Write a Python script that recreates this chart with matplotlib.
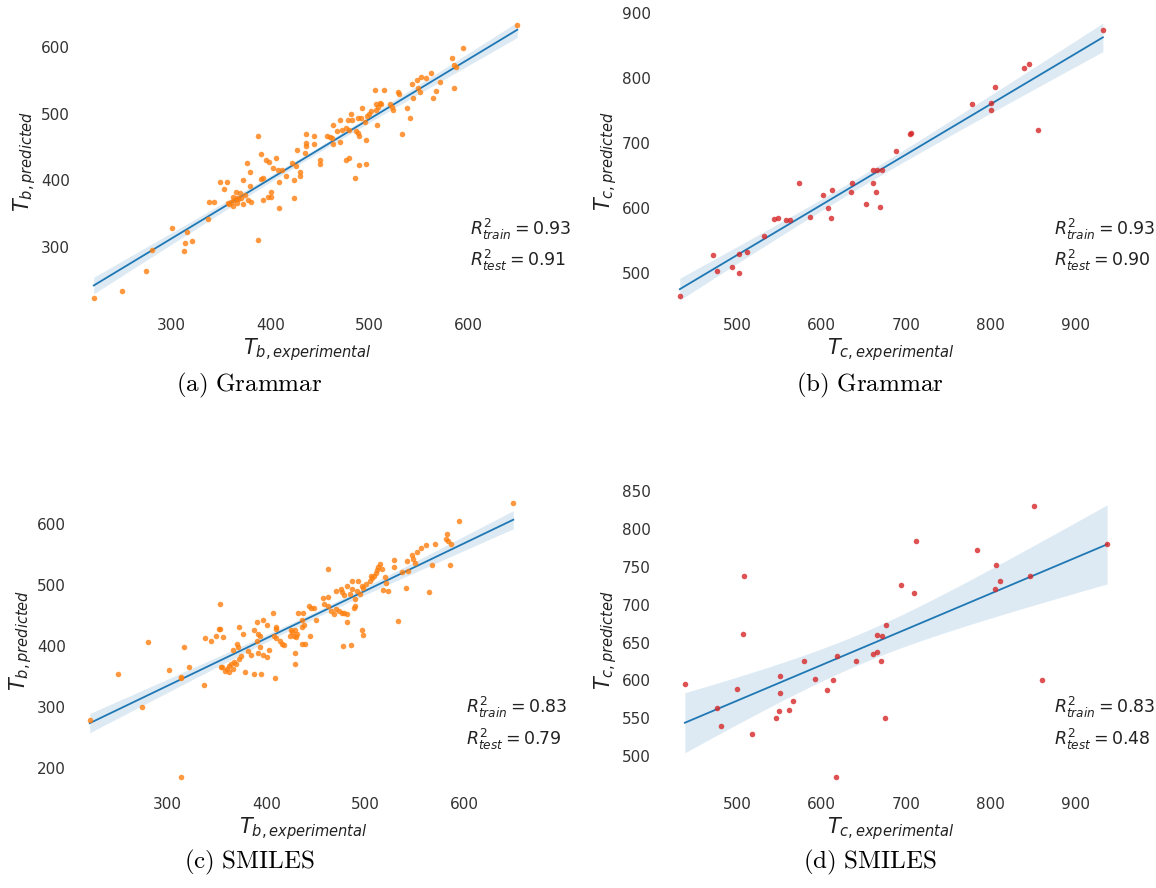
import matplotlib
matplotlib.use('Agg')
import matplotlib.pyplot as plt
import numpy as np

# (a) Grammar, boiling point
tb_gram_exp = [221, 250, 274, 280, 300, 312, 313, 315, 321, 337, 338, 343, 387,
               387, 436, 444, 436, 444, 436, 427, 435, 390, 395, 398, 406, 376, 422, 450, 450,
               426, 403, 408, 412, 379, 430, 430, 416, 392, 390, 372, 424, 409, 349, 356, 379,
               353, 401, 365, 369, 362, 366, 370, 397, 401, 392, 424, 358, 362, 366, 409,
               357, 360, 363, 367, 374, 377, 380, 372,
               650, 595, 584, 586, 588, 586, 563, 558, 552, 548, 543, 572, 568, 549, 551, 565,
               544, 538, 541, 533, 529, 530, 506, 515, 521, 523, 524, 507, 511, 512, 509, 507,
               502, 500, 498, 493, 482, 483, 489, 492, 496, 470, 479, 463, 508, 467, 472, 477,
               480, 487, 489, 457, 460, 462, 490, 497, 463, 470, 476, 480, 490, 497, 486]
tb_gram_pred = [223, 234, 264, 295, 328, 294, 306, 323, 309, 342, 368, 368, 311,
                466, 470, 466, 456, 455, 452, 446, 441, 439, 430, 428, 433, 426, 426, 430, 424,
                421, 418, 415, 415, 413, 413, 406, 406, 404, 402, 401, 401, 398, 398, 398, 391,
                387, 383, 383, 381, 375, 373, 374, 375, 375, 371, 373, 364, 362, 366, 359,
                366, 368, 370, 372, 378, 371, 368, 365,
                633, 598, 583, 573, 570, 539, 561, 553, 555, 550, 545, 548, 534, 538, 533, 523,
                523, 509, 493, 470, 533, 529, 536, 535, 515, 510, 506, 515, 516, 515, 510, 505,
                504, 500, 496, 508, 500, 490, 493, 494, 488, 491, 490, 483, 483, 474, 475, 479,
                476, 474, 471, 466, 465, 463, 466, 460, 455, 458, 430, 433, 423, 424, 404]

# (b) Grammar, critical temperature
tc_gram_exp = [432, 471, 476, 494, 502, 502, 511, 532, 543, 548, 558, 562, 573, 586,
               601, 607, 612, 611, 636, 635, 653, 661, 666, 672, 661, 664, 669, 688, 704,
               706, 778, 800, 800, 805, 840, 845, 856, 933]
tc_gram_pred = [465, 527, 503, 509, 500, 529, 532, 557, 583, 584, 582, 582, 638, 586,
                620, 600, 628, 584, 638, 624, 606, 658, 658, 658, 638, 624, 602, 687, 714,
                716, 760, 762, 750, 786, 816, 822, 720, 874]

# (c) SMILES, boiling point
tb_smi_exp = [221, 250, 274, 280, 301, 313, 313, 316, 313, 322, 337, 353, 353, 354,
              338, 344, 349, 356, 352, 407, 390, 396, 401, 372, 387, 391, 393, 390, 376,
              410, 410, 408, 410, 414, 370, 371, 393, 381, 384, 391, 396, 401, 366, 403,
              416, 418, 424, 426, 428, 430, 431, 429, 425, 374, 372, 367, 364, 362, 360,
              358, 355, 362, 366, 369, 378, 387, 394, 409, 429, 429, 436, 439, 444, 450,
              432, 437, 436, 436, 438, 443, 445, 448, 457, 462, 458, 462, 462,
              650, 595, 583, 582, 584, 587, 571, 562, 557, 552, 547, 548, 542, 529, 529,
              515, 513, 512, 511, 509, 517, 506, 507, 505, 501, 497, 498, 520, 521, 523,
              518, 493, 487, 482, 487, 492, 495, 543, 537, 550, 568, 586, 541, 565, 533,
              470, 475, 477, 479, 485, 490, 490, 489, 470, 473, 476, 479, 482, 465, 468,
              482, 497, 498, 478, 486]
tb_smi_pred = [279, 355, 300, 406, 361, 347, 349, 398, 185, 365, 336, 428, 469, 366,
               414, 408, 416, 415, 428, 454, 440, 443, 434, 431, 426, 420, 416, 409, 420,
               432, 428, 417, 414, 408, 403, 398, 398, 392, 385, 388, 385, 382, 393, 393,
               404, 401, 417, 423, 417, 415, 420, 426, 426, 383, 379, 374, 371, 367, 363,
               360, 366, 358, 363, 371, 358, 355, 355, 347, 389, 371, 403, 403, 416, 443,
               455, 454, 442, 432, 435, 466, 463, 463, 479, 480, 469, 465, 526,
               635, 605, 583, 575, 572, 567, 567, 565, 561, 555, 550, 543, 540, 541, 530,
               535, 530, 525, 519, 515, 526, 515, 512, 507, 501, 499, 495, 513, 504, 491,
               492, 506, 507, 499, 494, 491, 485, 523, 522, 537, 533, 533, 496, 488, 441,
               491, 494, 488, 483, 485, 477, 466, 463, 461, 458, 455, 454, 452, 457, 452,
               439, 426, 419, 400, 401]

# (d) SMILES, critical temperature
tc_smi_exp = [438, 476, 481, 500, 508, 507, 517, 546, 550, 551, 551, 561, 566, 579,
              592, 606, 613, 617, 618, 641, 661, 666, 665, 672, 670, 675, 676, 694, 712,
              709, 784, 806, 811, 805, 847, 851, 861, 938]
tc_smi_pred = [595, 563, 540, 589, 738, 662, 529, 551, 560, 606, 584, 561, 573, 626,
               602, 587, 601, 472, 632, 626, 635, 637, 660, 659, 626, 550, 673, 726, 784,
               716, 773, 752, 732, 721, 738, 831, 601, 780]

panels = [
    ('(a) Grammar', tb_gram_exp, tb_gram_pred, '#ff7f0e', 'b', '0.93', '0.91'),
    ('(b) Grammar', tc_gram_exp, tc_gram_pred, '#d62728', 'c', '0.93', '0.90'),
    ('(c) SMILES', tb_smi_exp, tb_smi_pred, '#ff7f0e', 'b', '0.83', '0.79'),
    ('(d) SMILES', tc_smi_exp, tc_smi_pred, '#d62728', 'c', '0.83', '0.48'),
]

W, H = 1156, 888
fig = plt.figure(figsize=(W / 100, H / 100), dpi=100)

# axes boxes in pixels: left, top, right, bottom
boxes = [(76, 11, 539, 312), (657, 11, 1124, 312),
         (72, 489, 535, 791), (657, 489, 1124, 791)]
limits = [((203, 672), (202.5, 653.8)),
          ((405, 958), (440, 903)),
          ((203, 672), (162.5, 657.5)),
          ((405, 958), (454, 853))]
captions_xy = [(249, 385), (870, 385), (249, 862), (870, 862)]
line_col = '#1f77b4'

for i, (cap, xs, ys, col, sub, r2tr, r2te) in enumerate(panels):
    l, t, r, b = boxes[i]
    ax = fig.add_axes([l / W, 1 - b / H, (r - l) / W, (b - t) / H])
    x = np.array(xs, dtype=float)
    y = np.array(ys, dtype=float)

    # linear fit with 95% band
    slope, icpt = np.polyfit(x, y, 1)
    grid = np.linspace(x.min(), x.max(), 100)
    fit = icpt + slope * grid
    resid = y - (icpt + slope * x)
    s = np.sqrt(np.sum(resid ** 2) / (len(x) - 2))
    se = s * np.sqrt(1 / len(x) + (grid - x.mean()) ** 2 / np.sum((x - x.mean()) ** 2))
    ax.fill_between(grid, fit - 2 * se, fit + 2 * se, color=line_col, alpha=0.15, lw=0)
    ax.plot(grid, fit, color=line_col, lw=1.3)
    ax.scatter(x, y, s=16, color=col, alpha=0.8, lw=0, zorder=3)

    ax.set_xlim(*limits[i][0])
    ax.set_ylim(*limits[i][1])
    for sp in ax.spines.values():
        sp.set_visible(False)
    ax.tick_params(length=0, labelsize=11, labelcolor='#333333', pad=4.5)
    ax.set_xlabel(r'$T_{%s,experimental}$' % sub, fontsize=15, color='#222222', labelpad=2)
    ax.set_ylabel(r'$T_{%s,predicted}$' % sub, fontsize=15, color='#222222', labelpad=2)

    ax.text(0.85, 0.275, r'$R^2_{train} = %s$' % r2tr, transform=ax.transAxes,
            fontsize=12.5, color='#222222', va='center', ha='left')
    ax.text(0.85, 0.172, r'$R^2_{test} = %s$' % r2te, transform=ax.transAxes,
            fontsize=12.5, color='#222222', va='center', ha='left')

    cx, cy = captions_xy[i]
    fig.text(cx / W, 1 - cy / H, r'$\mathrm{%s}$' % cap.replace(' ', r'\ '),
             math_fontfamily='cm', fontsize=18, ha='center', va='center')

fig.savefig('out.png', dpi=100)
